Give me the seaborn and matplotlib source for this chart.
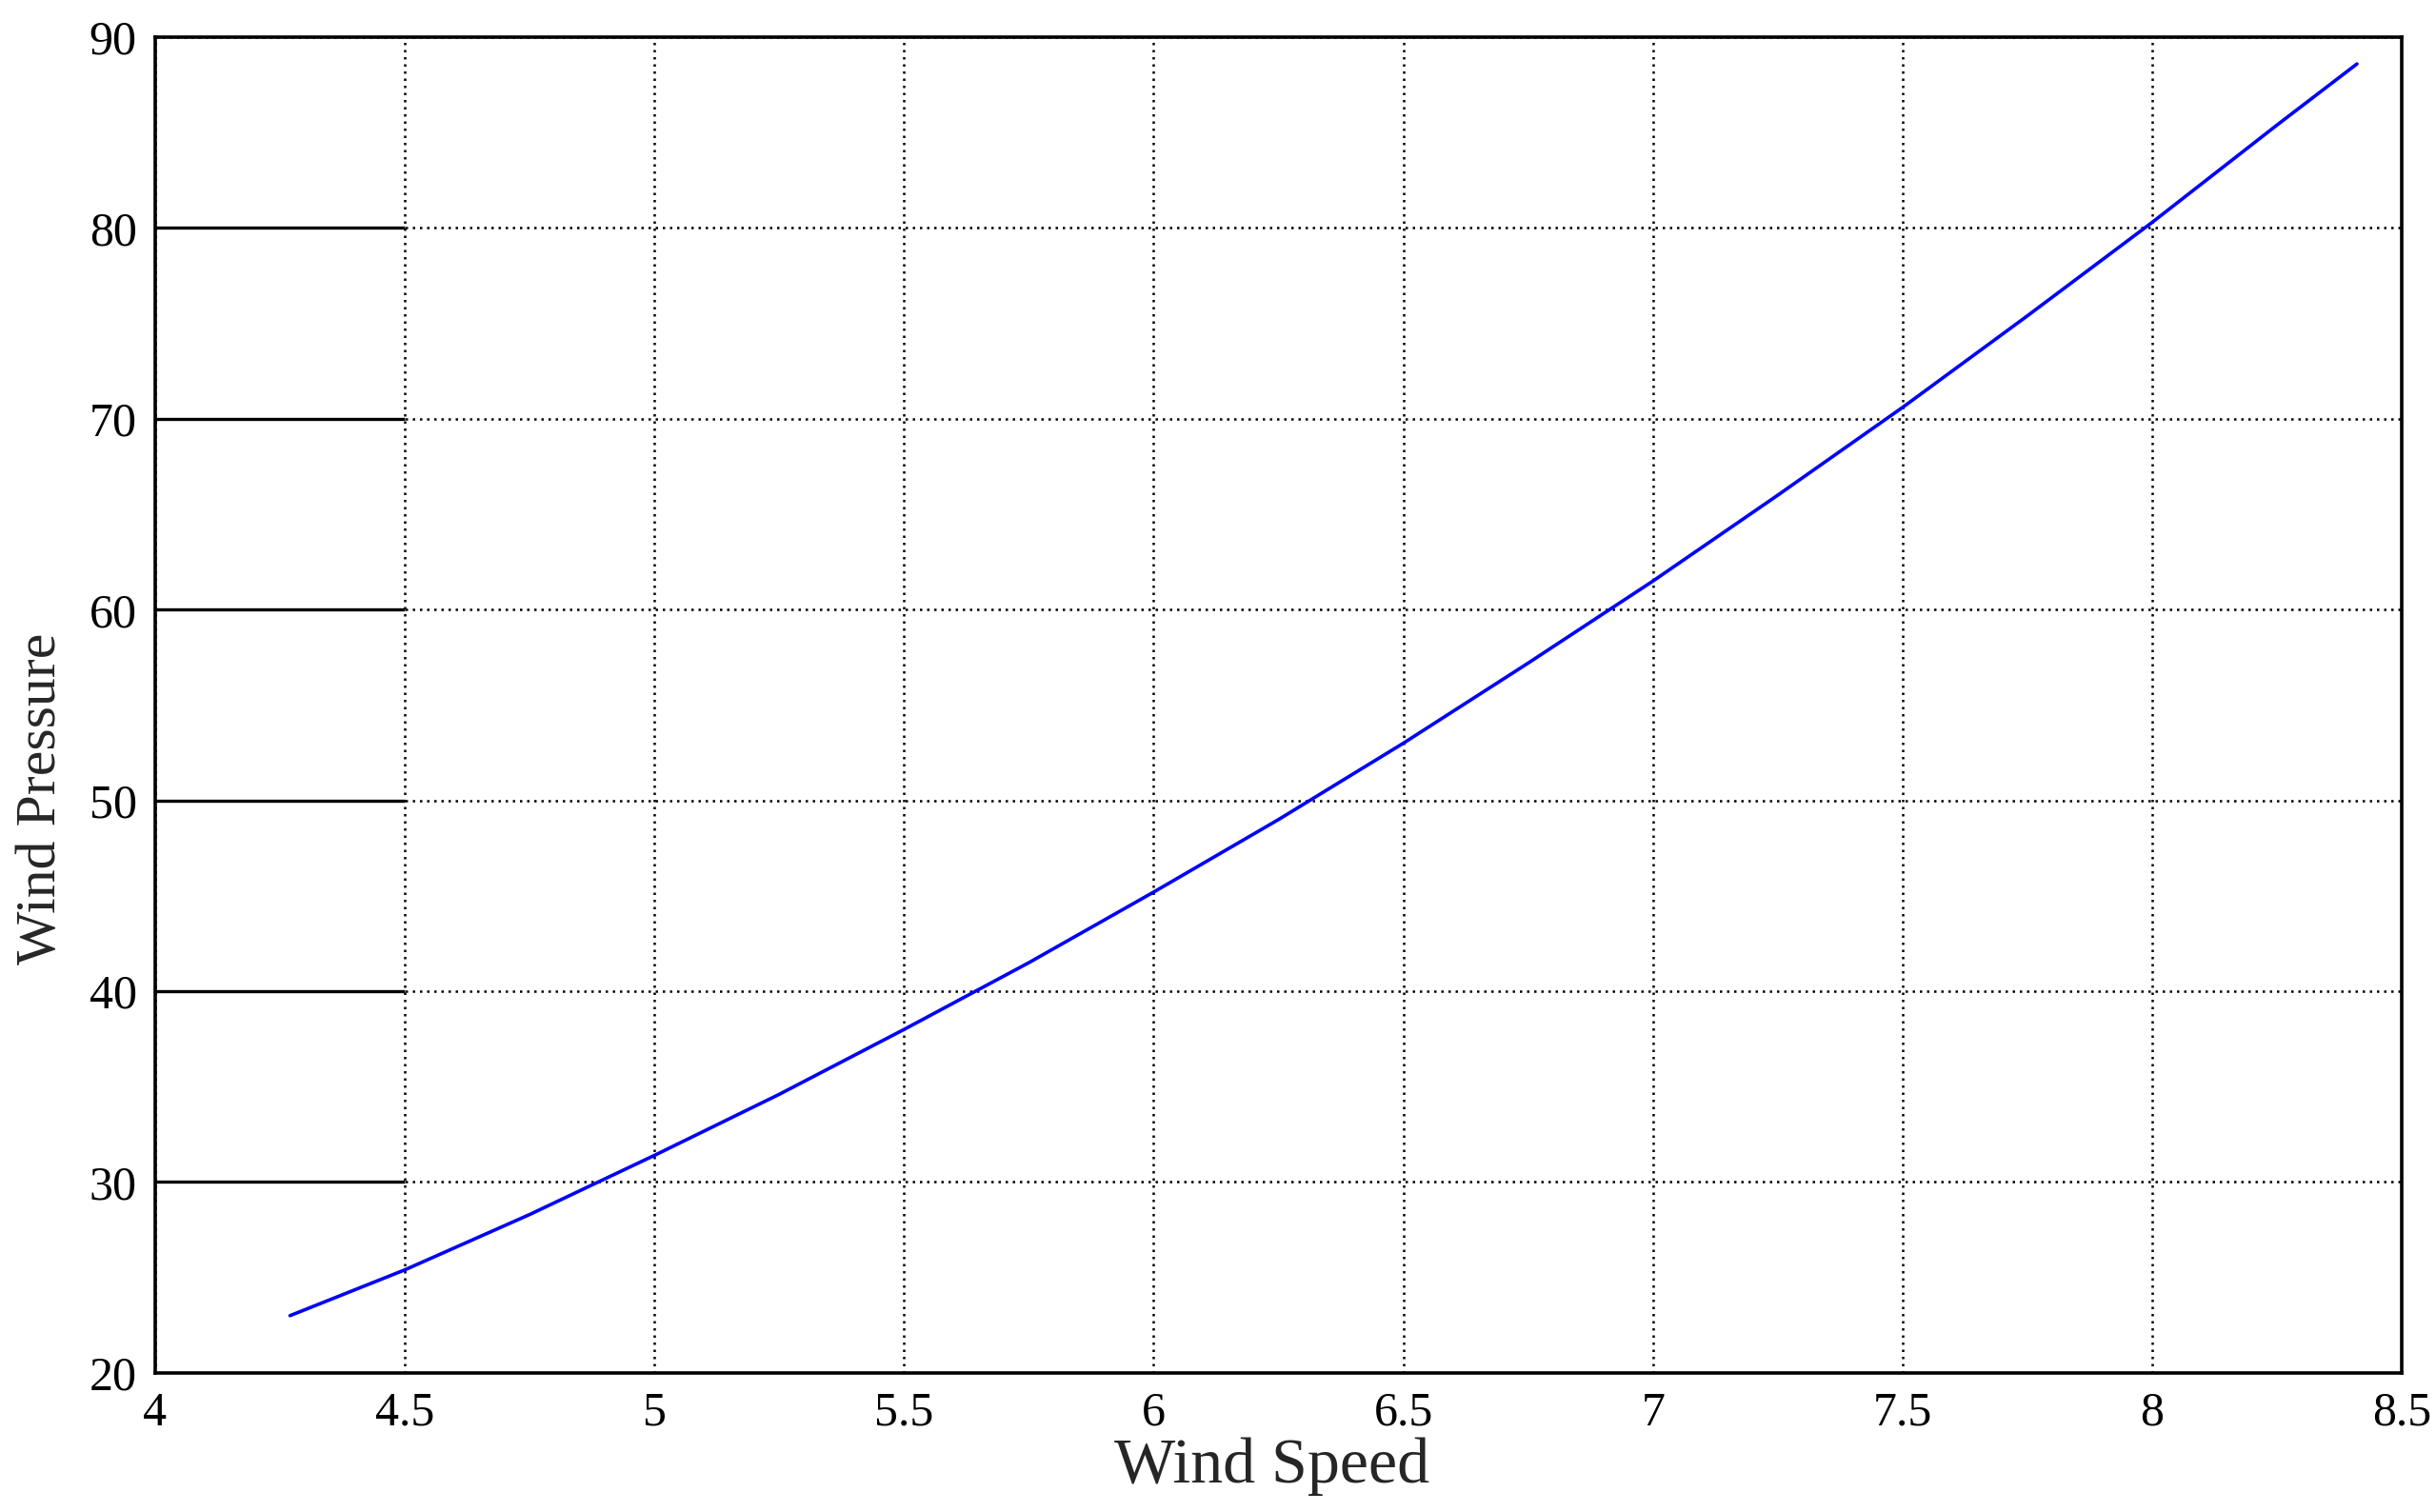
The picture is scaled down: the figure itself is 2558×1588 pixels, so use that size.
import numpy as np
import pandas as pd
import matplotlib
matplotlib.use("Agg")
import matplotlib.pyplot as plt
import seaborn as sns

# values
wind_speed = [4.27, 4.5, 4.75, 5.0, 5.25, 5.5, 5.75, 6.0, 6.25, 6.5,
              6.75, 7.0, 7.25, 7.5, 7.75, 8.0, 8.25, 8.41]
wind_pressure = [23.0, 25.4, 28.3, 31.4, 34.6, 38.0, 41.5, 45.2, 49.0, 53.0,
                 57.2, 61.5, 66.0, 70.6, 75.4, 80.3, 85.4, 88.6]

x_ticks = [4, 4.5, 5, 5.5, 6, 6.5, 7, 7.5, 8, 8.5]
x_labels = ["4", "4.5", "5", "5.5", "6", "6.5", "7", "7.5", "8", "8.5"]
y_ticks = [20, 30, 40, 50, 60, 70, 80, 90]
y_labels = ["20", "30", "40", "50", "60", "70", "80", "90"]

df = pd.DataFrame({"Wind Speed": wind_speed, "Wind Pressure": wind_pressure})

sns.set_style("white")
plt.rcParams["font.family"] = ["Liberation Serif", "DejaVu Serif"]

fig = plt.figure(figsize=(25.58, 15.88), dpi=100)
ax = fig.add_axes([0.0637, 0.092, 0.9223, 0.8834])

sns.lineplot(data=df, x="Wind Speed", y="Wind Pressure", ax=ax,
             color="#0000ff", linewidth=2.6, zorder=5)

ax.set_xlim(x_ticks[0], x_ticks[-1])
ax.set_ylim(y_ticks[0], y_ticks[-1])
ax.set_xticks(x_ticks)
ax.set_xticklabels(x_labels)
ax.set_yticks(y_ticks)
ax.set_yticklabels(y_labels)
ax.tick_params(axis="both", length=0, labelsize=36, colors="black")
ax.tick_params(axis="x", pad=14)
ax.tick_params(axis="y", pad=14)

# dotted grid
ax.grid(True, color="black", linestyle=(0, (1, 2)), linewidth=1.8)

# solid segments from the y axis to the first x grid line
ax.hlines(y_ticks[1:-1], x_ticks[0], x_ticks[1], colors="black",
          linewidth=2.4, zorder=3)

for s in ax.spines.values():
    s.set_color("black")
    s.set_linewidth(2.6)

ax.set_xlabel("Wind Speed", fontsize=49)
ax.set_ylabel("Wind Pressure", fontsize=43)
ax.xaxis.set_label_coords(0.497, -0.048)
ax.yaxis.set_label_coords(-0.039, 0.43)

fig.savefig("out.png", dpi=100, facecolor="white")
